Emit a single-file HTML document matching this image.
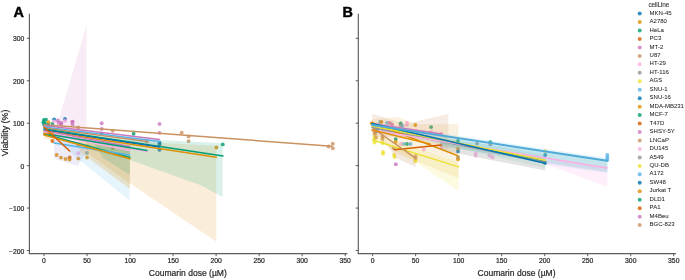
<!DOCTYPE html>
<html><head><meta charset="utf-8"><style>
html,body{margin:0;padding:0;background:#fff;overflow:hidden;}
svg{display:block;will-change:transform;}
text{font-family:"Liberation Sans",sans-serif;fill:#262626;stroke:#262626;stroke-width:0.2px;}
.tk{font-size:6.8px;}
.al{font-size:8.55px;}
.yl{font-size:8.9px;}
.lg{font-size:6.0px;stroke-width:0.05px;}
.pl{font-size:14.4px;font-weight:bold;fill:#000;stroke:#000;stroke-width:0.45px;}
</style></head><body>
<svg width="685" height="280" viewBox="0 0 685 280">
<rect width="685" height="280" fill="#fff"/>
<g id="data">
<circle cx="43.9" cy="120" r="1.95" fill="#029e73" fill-opacity="0.8"/>
<circle cx="46" cy="119.7" r="1.95" fill="#029e73" fill-opacity="0.8"/>
<circle cx="43.4" cy="122.2" r="1.95" fill="#029e73" fill-opacity="0.8"/>
<circle cx="45" cy="123.8" r="1.95" fill="#029e73" fill-opacity="0.8"/>
<circle cx="48.2" cy="125.1" r="1.95" fill="#029e73" fill-opacity="0.8"/>
<circle cx="52.5" cy="123.8" r="1.95" fill="#029e73" fill-opacity="0.8"/>
<circle cx="48.5" cy="122.2" r="1.95" fill="#de8f05" fill-opacity="0.8"/>
<circle cx="54.1" cy="119.4" r="1.95" fill="#0173b2" fill-opacity="0.8"/>
<circle cx="54.1" cy="121.4" r="1.95" fill="#fbafe4" fill-opacity="0.8"/>
<circle cx="65" cy="119" r="1.95" fill="#0173b2" fill-opacity="0.8"/>
<circle cx="65" cy="121" r="1.95" fill="#fbafe4" fill-opacity="0.8"/>
<circle cx="44" cy="124.4" r="1.95" fill="#029e73" fill-opacity="0.8"/>
<circle cx="47.6" cy="125.2" r="1.95" fill="#029e73" fill-opacity="0.8"/>
<circle cx="61" cy="124.6" r="1.95" fill="#cc78bc" fill-opacity="0.8"/>
<circle cx="57.8" cy="120.4" r="1.95" fill="#cc78bc" fill-opacity="0.8"/>
<circle cx="61" cy="122.7" r="1.95" fill="#cc78bc" fill-opacity="0.8"/>
<circle cx="58.4" cy="122.7" r="1.95" fill="#cc78bc" fill-opacity="0.8"/>
<circle cx="72.3" cy="121.9" r="1.95" fill="#cc78bc" fill-opacity="0.8"/>
<circle cx="61.4" cy="123.7" r="1.95" fill="#cc78bc" fill-opacity="0.8"/>
<circle cx="72.6" cy="121.6" r="1.95" fill="#cc78bc" fill-opacity="0.8"/>
<circle cx="72.6" cy="124.4" r="1.95" fill="#cc78bc" fill-opacity="0.8"/>
<circle cx="52.4" cy="141" r="1.95" fill="#d55e00" fill-opacity="0.8"/>
<circle cx="56.7" cy="155" r="1.95" fill="#de8f05" fill-opacity="0.8"/>
<circle cx="61" cy="157.6" r="1.95" fill="#de8f05" fill-opacity="0.8"/>
<circle cx="65.5" cy="159" r="1.95" fill="#de8f05" fill-opacity="0.8"/>
<circle cx="69.6" cy="157.4" r="1.95" fill="#d55e00" fill-opacity="0.8"/>
<circle cx="69.6" cy="159.5" r="1.95" fill="#de8f05" fill-opacity="0.8"/>
<circle cx="78.3" cy="158.6" r="1.95" fill="#de8f05" fill-opacity="0.8"/>
<circle cx="87" cy="157.6" r="1.95" fill="#de8f05" fill-opacity="0.8"/>
<circle cx="78.3" cy="153.3" r="1.95" fill="#fbafe4" fill-opacity="0.8"/>
<circle cx="87" cy="146.3" r="1.95" fill="#ca9161" fill-opacity="0.8"/>
<circle cx="87" cy="153" r="1.95" fill="#7fa4ae" fill-opacity="0.8"/>
<circle cx="78.3" cy="127.5" r="1.95" fill="#ca9161" fill-opacity="0.8"/>
<circle cx="78.3" cy="144.4" r="1.95" fill="#ca9161" fill-opacity="0.8"/>
<circle cx="101.7" cy="123.3" r="1.95" fill="#cc78bc" fill-opacity="0.8"/>
<circle cx="101.7" cy="128.9" r="1.95" fill="#cc78bc" fill-opacity="0.8"/>
<circle cx="101.7" cy="133.6" r="1.95" fill="#0173b2" fill-opacity="0.8"/>
<circle cx="112.8" cy="130.8" r="1.95" fill="#ca9161" fill-opacity="0.8"/>
<circle cx="112.8" cy="148" r="1.95" fill="#ca9161" fill-opacity="0.8"/>
<circle cx="133.6" cy="133.7" r="1.95" fill="#029e73" fill-opacity="0.8"/>
<circle cx="159.5" cy="123.9" r="1.95" fill="#cc78bc" fill-opacity="0.8"/>
<circle cx="159.5" cy="132.9" r="1.95" fill="#cc78bc" fill-opacity="0.8"/>
<circle cx="159.5" cy="142.7" r="1.95" fill="#0173b2" fill-opacity="0.8"/>
<circle cx="159.5" cy="144.5" r="1.95" fill="#0173b2" fill-opacity="0.8"/>
<circle cx="159.5" cy="149.8" r="1.95" fill="#0173b2" fill-opacity="0.8"/>
<circle cx="147" cy="141.4" r="1.95" fill="#ca9161" fill-opacity="0.8"/>
<circle cx="181.7" cy="132.8" r="1.95" fill="#ca9161" fill-opacity="0.8"/>
<circle cx="188.6" cy="136.4" r="1.95" fill="#ca9161" fill-opacity="0.8"/>
<circle cx="188.6" cy="141.1" r="1.95" fill="#ca9161" fill-opacity="0.8"/>
<circle cx="216.4" cy="147.5" r="1.95" fill="#de8f05" fill-opacity="0.8"/>
<circle cx="222.8" cy="144.4" r="1.95" fill="#029e73" fill-opacity="0.8"/>
<circle cx="332.8" cy="143.7" r="1.95" fill="#ca9161" fill-opacity="0.8"/>
<circle cx="332.8" cy="148.3" r="1.95" fill="#ca9161" fill-opacity="0.8"/>
<circle cx="328.6" cy="146.5" r="1.95" fill="#ca9161" fill-opacity="0.8"/>
<circle cx="371.8" cy="123.2" r="1.95" fill="#de8f05" fill-opacity="0.8"/>
<circle cx="374.7" cy="126.5" r="1.95" fill="#ca9161" fill-opacity="0.8"/>
<circle cx="374.7" cy="129.1" r="1.95" fill="#ca9161" fill-opacity="0.8"/>
<circle cx="374.7" cy="131.8" r="1.95" fill="#ca9161" fill-opacity="0.8"/>
<circle cx="375" cy="134" r="1.95" fill="#ca9161" fill-opacity="0.8"/>
<circle cx="374.5" cy="137" r="1.95" fill="#ece133" fill-opacity="0.8"/>
<circle cx="374.5" cy="142.5" r="1.95" fill="#ece133" fill-opacity="0.8"/>
<circle cx="374.8" cy="139.5" r="1.95" fill="#ece133" fill-opacity="0.8"/>
<circle cx="382.6" cy="136.5" r="1.95" fill="#ca9161" fill-opacity="0.8"/>
<circle cx="382.6" cy="139" r="1.95" fill="#ca9161" fill-opacity="0.8"/>
<circle cx="382.6" cy="143" r="1.95" fill="#ece133" fill-opacity="0.8"/>
<circle cx="376" cy="137.5" r="1.95" fill="#ca9161" fill-opacity="0.8"/>
<circle cx="383" cy="152" r="1.95" fill="#ece133" fill-opacity="0.8"/>
<circle cx="383" cy="153.8" r="1.95" fill="#ece133" fill-opacity="0.8"/>
<circle cx="394.5" cy="157" r="1.95" fill="#ece133" fill-opacity="0.8"/>
<circle cx="395.8" cy="164.2" r="1.95" fill="#cc78bc" fill-opacity="0.8"/>
<circle cx="403.5" cy="144" r="1.95" fill="#56b4e9" fill-opacity="0.8"/>
<circle cx="407" cy="144" r="1.95" fill="#029e73" fill-opacity="0.8"/>
<circle cx="410.6" cy="144" r="1.95" fill="#56b4e9" fill-opacity="0.8"/>
<circle cx="394" cy="155" r="1.95" fill="#ece133" fill-opacity="0.8"/>
<circle cx="400.7" cy="144" r="1.95" fill="#fbafe4" fill-opacity="0.8"/>
<circle cx="415.3" cy="125" r="1.95" fill="#de8f05" fill-opacity="0.8"/>
<circle cx="400.7" cy="123.4" r="1.95" fill="#029e73" fill-opacity="0.8"/>
<circle cx="400.7" cy="125.6" r="1.95" fill="#949494" fill-opacity="0.8"/>
<circle cx="406.9" cy="122.7" r="1.95" fill="#fbafe4" fill-opacity="0.8"/>
<circle cx="406.9" cy="124.9" r="1.95" fill="#fbafe4" fill-opacity="0.8"/>
<circle cx="377.4" cy="125.4" r="1.95" fill="#0173b2" fill-opacity="0.8"/>
<circle cx="377.4" cy="130.8" r="1.95" fill="#0173b2" fill-opacity="0.8"/>
<circle cx="392" cy="124.5" r="1.95" fill="#cc78bc" fill-opacity="0.8"/>
<circle cx="395.7" cy="139.1" r="1.95" fill="#029e73" fill-opacity="0.8"/>
<circle cx="395.7" cy="142" r="1.95" fill="#de8f05" fill-opacity="0.8"/>
<circle cx="415.6" cy="156.2" r="1.95" fill="#ca9161" fill-opacity="0.8"/>
<circle cx="415.6" cy="158.8" r="1.95" fill="#ca9161" fill-opacity="0.8"/>
<circle cx="393.8" cy="148.1" r="1.95" fill="#ca9161" fill-opacity="0.8"/>
<circle cx="415.4" cy="161.2" r="1.95" fill="#ece133" fill-opacity="0.8"/>
<circle cx="458" cy="141" r="1.95" fill="#029e73" fill-opacity="0.8"/>
<circle cx="458" cy="148.6" r="1.95" fill="#de8f05" fill-opacity="0.8"/>
<circle cx="458" cy="151.4" r="1.95" fill="#0173b2" fill-opacity="0.8"/>
<circle cx="458" cy="157.1" r="1.95" fill="#949494" fill-opacity="0.8"/>
<circle cx="458" cy="159.3" r="1.95" fill="#de8f05" fill-opacity="0.8"/>
<circle cx="441.4" cy="147.1" r="1.95" fill="#fbafe4" fill-opacity="0.8"/>
<circle cx="441.4" cy="133.6" r="1.95" fill="#fbafe4" fill-opacity="0.8"/>
<circle cx="423.8" cy="149.5" r="1.95" fill="#fbafe4" fill-opacity="0.8"/>
<circle cx="431.1" cy="127.1" r="1.95" fill="#029e73" fill-opacity="0.8"/>
<circle cx="431.1" cy="132" r="1.95" fill="#fbafe4" fill-opacity="0.8"/>
<circle cx="380" cy="121.9" r="1.95" fill="#56b4e9" fill-opacity="0.8"/>
<circle cx="381.4" cy="121.9" r="1.95" fill="#de8f05" fill-opacity="0.8"/>
<circle cx="387" cy="122.9" r="1.95" fill="#56b4e9" fill-opacity="0.8"/>
<circle cx="389.8" cy="122.9" r="1.95" fill="#cc78bc" fill-opacity="0.8"/>
<circle cx="402.4" cy="125.7" r="1.95" fill="#56b4e9" fill-opacity="0.8"/>
<circle cx="477.1" cy="143.6" r="1.95" fill="#949494" fill-opacity="0.8"/>
<circle cx="490.3" cy="142.1" r="1.95" fill="#029e73" fill-opacity="0.8"/>
<circle cx="490.3" cy="144.4" r="1.95" fill="#949494" fill-opacity="0.8"/>
<circle cx="475.7" cy="153.6" r="1.95" fill="#fbafe4" fill-opacity="0.8"/>
<circle cx="475.7" cy="155.7" r="1.95" fill="#fbafe4" fill-opacity="0.8"/>
<circle cx="492.5" cy="157.3" r="1.95" fill="#fbafe4" fill-opacity="0.8"/>
<circle cx="489.4" cy="155.5" r="1.95" fill="#fbafe4" fill-opacity="0.8"/>
<circle cx="545.2" cy="151.2" r="1.95" fill="#ece133" fill-opacity="0.8"/>
<circle cx="545.2" cy="155" r="1.95" fill="#0173b2" fill-opacity="0.8"/>
<circle cx="545.2" cy="163" r="1.95" fill="#0173b2" fill-opacity="0.8"/>
<circle cx="607.3" cy="155" r="1.95" fill="#56b4e9" fill-opacity="0.8"/>
<circle cx="607.3" cy="157.6" r="1.95" fill="#56b4e9" fill-opacity="0.8"/>
<circle cx="607.3" cy="159.8" r="1.95" fill="#56b4e9" fill-opacity="0.8"/>
<polygon points="57.5,124.0 86.5,25.2 86.5,133.0 70.0,130.0" fill="#cc78bc" fill-opacity="0.14"/>
<polygon points="44.0,133.0 53.5,133.0 53.5,140.0 44.0,139.0" fill="#de8f05" fill-opacity="0.15"/>
<polygon points="54.0,136.0 78.0,135.0 88.0,150.0 77.5,166.0 54.0,158.5" fill="#8f7fc0" fill-opacity="0.15"/>
<polygon points="54.0,140.0 129.5,150.0 129.5,200.7 65.0,148.0" fill="#56b4e9" fill-opacity="0.15"/>
<polygon points="80.0,138.0 216.4,146.0 216.4,241.7 130.0,183.6 90.0,155.0" fill="#de8f05" fill-opacity="0.15"/>
<polygon points="80.0,136.0 222.6,143.2 222.6,197.0 200.0,185.0 130.0,160.0 92.0,150.0" fill="#029e73" fill-opacity="0.15"/>
<polygon points="78.0,140.0 130.0,146.0 130.0,189.0 80.0,152.0" fill="#de8f05" fill-opacity="0.2"/>
<polygon points="92.0,140.0 130.0,146.0 130.0,175.0 103.0,158.0" fill="#029e73" fill-opacity="0.15"/>
<polygon points="128.0,136.0 159.5,139.0 159.5,146.0 128.0,142.0" fill="#56b4e9" fill-opacity="0.15"/>
<polygon points="385.0,142.0 415.6,156.0 415.6,167.0 396.0,158.0" fill="#ca9161" fill-opacity="0.2"/>
<polygon points="372.3,113.8 405.0,124.0 448.4,113.8 448.4,150.0 405.0,138.0 372.3,136.0" fill="#ca9161" fill-opacity="0.17"/>
<polygon points="372.0,119.0 398.9,116.9 415.0,124.3 458.4,124.3 458.4,178.3 395.7,153.1 372.0,134.0" fill="#de8f05" fill-opacity="0.12"/>
<polygon points="372.0,134.0 458.6,162.0 458.6,190.9 393.4,147.4 372.0,139.0" fill="#ece133" fill-opacity="0.15"/>
<polygon points="372.0,123.0 607.3,158.0 607.3,173.0 545.0,164.0 372.0,129.0" fill="#56b4e9" fill-opacity="0.15"/>
<polygon points="440.0,138.0 607.3,160.0 607.3,172.0 545.0,162.5 440.0,146.0" fill="#7cc4c8" fill-opacity="0.3"/>
<polygon points="545.0,160.0 607.3,166.0 607.3,186.8 545.0,164.0" fill="#fbafe4" fill-opacity="0.2"/>
<polygon points="440.0,140.0 545.2,158.0 545.2,170.6 440.0,150.0" fill="#949494" fill-opacity="0.25"/>
<polygon points="372.0,123.0 545.2,155.0 545.2,168.0 372.0,129.0" fill="#029e73" fill-opacity="0.08"/>
<line x1="44" y1="124.7" x2="332" y2="146.3" stroke="#ca9161" stroke-width="1.5" stroke-linecap="round"/>
<line x1="44" y1="125.5" x2="159.6" y2="139.4" stroke="#cc78bc" stroke-width="1.5" stroke-linecap="round"/>
<line x1="44" y1="127" x2="159.6" y2="141.5" stroke="#56b4e9" stroke-width="1.5" stroke-linecap="round"/>
<line x1="44" y1="128" x2="147" y2="141.4" stroke="#ca9161" stroke-width="1.5" stroke-linecap="round"/>
<line x1="44" y1="129" x2="223" y2="156" stroke="#029e73" stroke-width="1.5" stroke-linecap="round"/>
<line x1="44" y1="130" x2="159.6" y2="147" stroke="#0173b2" stroke-width="1.5" stroke-linecap="round"/>
<line x1="44" y1="131" x2="216.4" y2="157.2" stroke="#de8f05" stroke-width="1.5" stroke-linecap="round"/>
<line x1="44" y1="131" x2="130" y2="146.5" stroke="#cc78bc" stroke-width="1.5" stroke-linecap="round"/>
<line x1="44" y1="132" x2="147.8" y2="151.7" stroke="#fbafe4" stroke-width="1.5" stroke-linecap="round"/>
<line x1="44" y1="134" x2="130" y2="157.4" stroke="#029e73" stroke-width="1.5" stroke-linecap="round"/>
<line x1="54" y1="143" x2="129.5" y2="155" stroke="#56b4e9" stroke-width="1.5" stroke-linecap="round"/>
<line x1="44" y1="133" x2="130" y2="150.5" stroke="#fbafe4" stroke-width="1.5" stroke-linecap="round"/>
<line x1="44" y1="133.5" x2="147" y2="150.5" stroke="#029e73" stroke-width="1.5" stroke-linecap="round"/>
<line x1="44" y1="135" x2="130" y2="158.7" stroke="#de8f05" stroke-width="1.5" stroke-linecap="round"/>
<line x1="44" y1="127" x2="69.6" y2="151" stroke="#d55e00" stroke-width="1.5" stroke-linecap="round"/>
<line x1="44" y1="133.4" x2="53" y2="133.6" stroke="#de8f05" stroke-width="1.5" stroke-linecap="round"/>
<line x1="372" y1="125.5" x2="545.2" y2="161.5" stroke="#029e73" stroke-width="1.5" stroke-linecap="round"/>
<line x1="372" y1="127.5" x2="545.2" y2="162" stroke="#949494" stroke-width="1.5" stroke-linecap="round"/>
<line x1="372" y1="122.7" x2="458" y2="155.7" stroke="#de8f05" stroke-width="1.5" stroke-linecap="round"/>
<line x1="373" y1="123.7" x2="441.6" y2="134.1" stroke="#cc78bc" stroke-width="1.5" stroke-linecap="round"/>
<line x1="372" y1="129.9" x2="607.2" y2="167.9" stroke="#fbafe4" stroke-width="1.5" stroke-linecap="round"/>
<line x1="372" y1="126" x2="545.2" y2="160.2" stroke="#ece133" stroke-width="1.5" stroke-linecap="round"/>
<line x1="372" y1="123.5" x2="545.2" y2="163.3" stroke="#0173b2" stroke-width="1.5" stroke-linecap="round"/>
<line x1="372" y1="125" x2="607.2" y2="160.8" stroke="#4faad8" stroke-width="2.0" stroke-linecap="round"/>
<line x1="372.5" y1="140" x2="458.6" y2="166.9" stroke="#ece133" stroke-width="1.5" stroke-linecap="round"/>
<line x1="394.6" y1="149.7" x2="441.4" y2="145.1" stroke="#d55e00" stroke-width="1.5" stroke-linecap="round"/>
<line x1="374" y1="129" x2="415.6" y2="158.1" stroke="#ca9161" stroke-width="1.5" stroke-linecap="round"/>
<line x1="372" y1="130" x2="430" y2="144" stroke="#de8f05" stroke-width="1.5" stroke-linecap="round"/>
</g>
<line x1="29.4" y1="13.8" x2="29.4" y2="254.1" stroke="#5c5c5c" stroke-width="1.15"/>
<line x1="28.9" y1="253.6" x2="347.4" y2="253.6" stroke="#5c5c5c" stroke-width="1.15"/>
<line x1="26.799999999999997" y1="250.53" x2="29.4" y2="250.53" stroke="#5c5c5c" stroke-width="1"/>
<line x1="26.799999999999997" y1="208.09" x2="29.4" y2="208.09" stroke="#5c5c5c" stroke-width="1"/>
<line x1="26.799999999999997" y1="165.64" x2="29.4" y2="165.64" stroke="#5c5c5c" stroke-width="1"/>
<line x1="26.799999999999997" y1="123.19" x2="29.4" y2="123.19" stroke="#5c5c5c" stroke-width="1"/>
<line x1="26.799999999999997" y1="80.75" x2="29.4" y2="80.75" stroke="#5c5c5c" stroke-width="1"/>
<line x1="26.799999999999997" y1="38.30" x2="29.4" y2="38.30" stroke="#5c5c5c" stroke-width="1"/>
<line x1="44.00" y1="253.6" x2="44.00" y2="256.2" stroke="#5c5c5c" stroke-width="1"/>
<text x="44.00" y="263.0" class="tk" text-anchor="middle">0</text>
<line x1="87.03" y1="253.6" x2="87.03" y2="256.2" stroke="#5c5c5c" stroke-width="1"/>
<text x="87.03" y="263.0" class="tk" text-anchor="middle">50</text>
<line x1="130.05" y1="253.6" x2="130.05" y2="256.2" stroke="#5c5c5c" stroke-width="1"/>
<text x="130.05" y="263.0" class="tk" text-anchor="middle">100</text>
<line x1="173.08" y1="253.6" x2="173.08" y2="256.2" stroke="#5c5c5c" stroke-width="1"/>
<text x="173.08" y="263.0" class="tk" text-anchor="middle">150</text>
<line x1="216.10" y1="253.6" x2="216.10" y2="256.2" stroke="#5c5c5c" stroke-width="1"/>
<text x="216.10" y="263.0" class="tk" text-anchor="middle">200</text>
<line x1="259.12" y1="253.6" x2="259.12" y2="256.2" stroke="#5c5c5c" stroke-width="1"/>
<text x="259.12" y="263.0" class="tk" text-anchor="middle">250</text>
<line x1="302.15" y1="253.6" x2="302.15" y2="256.2" stroke="#5c5c5c" stroke-width="1"/>
<text x="302.15" y="263.0" class="tk" text-anchor="middle">300</text>
<line x1="345.18" y1="253.6" x2="345.18" y2="256.2" stroke="#5c5c5c" stroke-width="1"/>
<text x="345.18" y="263.0" class="tk" text-anchor="middle">350</text>
<text x="187.80" y="275.8" class="al" text-anchor="middle">Coumarin dose (µM)</text>
<line x1="358.3" y1="13.8" x2="358.3" y2="254.1" stroke="#5c5c5c" stroke-width="1.15"/>
<line x1="357.8" y1="253.6" x2="675.9" y2="253.6" stroke="#5c5c5c" stroke-width="1.15"/>
<line x1="355.7" y1="250.53" x2="358.3" y2="250.53" stroke="#5c5c5c" stroke-width="1"/>
<line x1="355.7" y1="208.09" x2="358.3" y2="208.09" stroke="#5c5c5c" stroke-width="1"/>
<line x1="355.7" y1="165.64" x2="358.3" y2="165.64" stroke="#5c5c5c" stroke-width="1"/>
<line x1="355.7" y1="123.19" x2="358.3" y2="123.19" stroke="#5c5c5c" stroke-width="1"/>
<line x1="355.7" y1="80.75" x2="358.3" y2="80.75" stroke="#5c5c5c" stroke-width="1"/>
<line x1="355.7" y1="38.30" x2="358.3" y2="38.30" stroke="#5c5c5c" stroke-width="1"/>
<line x1="372.60" y1="253.6" x2="372.60" y2="256.2" stroke="#5c5c5c" stroke-width="1"/>
<text x="372.60" y="263.0" class="tk" text-anchor="middle">0</text>
<line x1="415.62" y1="253.6" x2="415.62" y2="256.2" stroke="#5c5c5c" stroke-width="1"/>
<text x="415.62" y="263.0" class="tk" text-anchor="middle">50</text>
<line x1="458.65" y1="253.6" x2="458.65" y2="256.2" stroke="#5c5c5c" stroke-width="1"/>
<text x="458.65" y="263.0" class="tk" text-anchor="middle">100</text>
<line x1="501.68" y1="253.6" x2="501.68" y2="256.2" stroke="#5c5c5c" stroke-width="1"/>
<text x="501.68" y="263.0" class="tk" text-anchor="middle">150</text>
<line x1="544.70" y1="253.6" x2="544.70" y2="256.2" stroke="#5c5c5c" stroke-width="1"/>
<text x="544.70" y="263.0" class="tk" text-anchor="middle">200</text>
<line x1="587.73" y1="253.6" x2="587.73" y2="256.2" stroke="#5c5c5c" stroke-width="1"/>
<text x="587.73" y="263.0" class="tk" text-anchor="middle">250</text>
<line x1="630.75" y1="253.6" x2="630.75" y2="256.2" stroke="#5c5c5c" stroke-width="1"/>
<text x="630.75" y="263.0" class="tk" text-anchor="middle">300</text>
<line x1="673.78" y1="253.6" x2="673.78" y2="256.2" stroke="#5c5c5c" stroke-width="1"/>
<text x="673.78" y="263.0" class="tk" text-anchor="middle">350</text>
<text x="516.50" y="275.8" class="al" text-anchor="middle">Coumarin dose (µM)</text>
<text x="24.4" y="253.53" class="tk" text-anchor="end">−200</text>
<text x="24.4" y="211.09" class="tk" text-anchor="end">−100</text>
<text x="24.4" y="168.64" class="tk" text-anchor="end">0</text>
<text x="24.4" y="126.19" class="tk" text-anchor="end">100</text>
<text x="24.4" y="83.75" class="tk" text-anchor="end">200</text>
<text x="24.4" y="41.30" class="tk" text-anchor="end">300</text>
<text transform="translate(8.2,133.0) rotate(-90)" class="yl" text-anchor="middle">Viability (%)</text>
<text x="13.5" y="16.6" class="pl">A</text>
<text x="342.4" y="16.6" class="pl">B</text>
<text x="648.4" y="6.8" class="lg" style="font-size:6.4px;letter-spacing:-0.12px">cellLine</text>
<circle cx="639.7" cy="13.60" r="2.0" fill="#0173b2" fill-opacity="0.8"/>
<text x="649.6" y="14.70" class="lg">MKN-45</text>
<circle cx="639.7" cy="22.06" r="2.0" fill="#de8f05" fill-opacity="0.8"/>
<text x="649.6" y="23.16" class="lg">A2780</text>
<circle cx="639.7" cy="30.52" r="2.0" fill="#029e73" fill-opacity="0.8"/>
<text x="649.6" y="31.62" class="lg">HeLa</text>
<circle cx="639.7" cy="38.98" r="2.0" fill="#d55e00" fill-opacity="0.8"/>
<text x="649.6" y="40.08" class="lg">PC3</text>
<circle cx="639.7" cy="47.44" r="2.0" fill="#cc78bc" fill-opacity="0.8"/>
<text x="649.6" y="48.54" class="lg">MT-2</text>
<circle cx="639.7" cy="55.90" r="2.0" fill="#ca9161" fill-opacity="0.8"/>
<text x="649.6" y="57.00" class="lg">U87</text>
<circle cx="639.7" cy="64.36" r="2.0" fill="#fbafe4" fill-opacity="0.8"/>
<text x="649.6" y="65.46" class="lg">HT-29</text>
<circle cx="639.7" cy="72.82" r="2.0" fill="#949494" fill-opacity="0.8"/>
<text x="649.6" y="73.92" class="lg">HT-116</text>
<circle cx="639.7" cy="81.28" r="2.0" fill="#ece133" fill-opacity="0.8"/>
<text x="649.6" y="82.38" class="lg">AGS</text>
<circle cx="639.7" cy="89.74" r="2.0" fill="#56b4e9" fill-opacity="0.8"/>
<text x="649.6" y="90.84" class="lg">SNU-1</text>
<circle cx="639.7" cy="98.20" r="2.0" fill="#0173b2" fill-opacity="0.8"/>
<text x="649.6" y="99.30" class="lg">SNU-16</text>
<circle cx="639.7" cy="106.66" r="2.0" fill="#de8f05" fill-opacity="0.8"/>
<text x="649.6" y="107.76" class="lg">MDA-MB231</text>
<circle cx="639.7" cy="115.12" r="2.0" fill="#029e73" fill-opacity="0.8"/>
<text x="649.6" y="116.22" class="lg">MCF-7</text>
<circle cx="639.7" cy="123.58" r="2.0" fill="#d55e00" fill-opacity="0.8"/>
<text x="649.6" y="124.68" class="lg">T47D</text>
<circle cx="639.7" cy="132.04" r="2.0" fill="#cc78bc" fill-opacity="0.8"/>
<text x="649.6" y="133.14" class="lg">SHSY-5Y</text>
<circle cx="639.7" cy="140.50" r="2.0" fill="#ca9161" fill-opacity="0.8"/>
<text x="649.6" y="141.60" class="lg">LNCaP</text>
<circle cx="639.7" cy="148.96" r="2.0" fill="#fbafe4" fill-opacity="0.8"/>
<text x="649.6" y="150.06" class="lg">DU145</text>
<circle cx="639.7" cy="157.42" r="2.0" fill="#949494" fill-opacity="0.8"/>
<text x="649.6" y="158.52" class="lg">A549</text>
<circle cx="639.7" cy="165.88" r="2.0" fill="#ece133" fill-opacity="0.8"/>
<text x="649.6" y="166.98" class="lg">QU-DB</text>
<circle cx="639.7" cy="174.34" r="2.0" fill="#56b4e9" fill-opacity="0.8"/>
<text x="649.6" y="175.44" class="lg">A172</text>
<circle cx="639.7" cy="182.80" r="2.0" fill="#0173b2" fill-opacity="0.8"/>
<text x="649.6" y="183.90" class="lg">SW48</text>
<circle cx="639.7" cy="191.26" r="2.0" fill="#de8f05" fill-opacity="0.8"/>
<text x="649.6" y="192.36" class="lg">Jurkat T</text>
<circle cx="639.7" cy="199.72" r="2.0" fill="#029e73" fill-opacity="0.8"/>
<text x="649.6" y="200.82" class="lg">DLD1</text>
<circle cx="639.7" cy="208.18" r="2.0" fill="#d55e00" fill-opacity="0.8"/>
<text x="649.6" y="209.28" class="lg">PA1</text>
<circle cx="639.7" cy="216.64" r="2.0" fill="#cc78bc" fill-opacity="0.8"/>
<text x="649.6" y="217.74" class="lg">M4Beu</text>
<circle cx="639.7" cy="225.10" r="2.0" fill="#ca9161" fill-opacity="0.8"/>
<text x="649.6" y="226.20" class="lg">BGC-823</text>
</svg>
</body></html>
